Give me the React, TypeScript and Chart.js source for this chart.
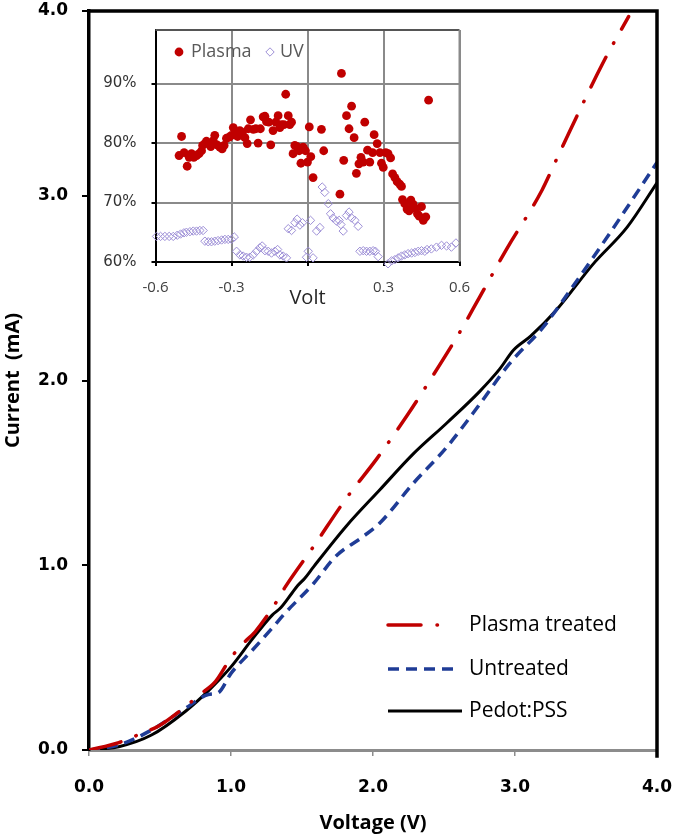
import React, { useEffect, useRef } from 'react';
import { Chart, registerables } from 'chart.js';

Chart.register(...registerables);

// ---------- Main chart data (Voltage V -> Current mA) ----------
const PLASMA_V = [0, 0.21, 0.37, 0.49, 0.68, 0.78, 0.89, 1.0, 1.09, 1.17, 1.31, 1.38, 1.58, 1.81, 2.03, 2.24, 2.40, 2.61, 2.75, 2.94, 3.19, 3.30, 3.62, 3.80];
const PLASMA_I = [0, 0.04, 0.09, 0.13, 0.236, 0.30, 0.37, 0.50, 0.58, 0.64, 0.79, 0.88, 1.10, 1.36, 1.58, 1.81, 2.00, 2.26, 2.45, 2.71, 3.03, 3.21, 3.72, 3.97];

const UNTREATED_V = [0, 0.21, 0.44, 0.68, 0.84, 0.91, 1.0, 1.15, 1.29, 1.38, 1.58, 1.74, 1.93, 2.05, 2.28, 2.52, 2.75, 2.96, 3.20, 3.39, 3.67, 4.0];
const UNTREATED_I = [0, 0.027, 0.108, 0.226, 0.30, 0.31, 0.415, 0.54, 0.66, 0.74, 0.90, 1.05, 1.155, 1.23, 1.44, 1.64, 1.87, 2.09, 2.29, 2.49, 2.80, 3.18];

const PEDOT_V = [0, 0.21, 0.44, 0.68, 0.84, 1.0, 1.15, 1.29, 1.35, 1.43, 1.47, 1.52, 1.58, 1.81, 2.05, 2.28, 2.52, 2.75, 2.89, 2.99, 3.11, 3.29, 3.55, 3.79, 4.0];
const PEDOT_I = [0, 0.018, 0.081, 0.21, 0.32, 0.45, 0.60, 0.73, 0.77, 0.85, 0.89, 0.93, 0.99, 1.21, 1.41, 1.60, 1.77, 1.94, 2.06, 2.165, 2.24, 2.38, 2.63, 2.83, 3.07];

const MAIN_X_TICKS = [0, 1, 2, 3, 4];
const MAIN_Y_TICKS = [0, 1, 2, 3, 4];

// ---------- Inset data (Volt -> %) ----------
const INSET_PLASMA_V = [-0.507, -0.497, -0.487, -0.475, -0.467, -0.458, -0.449, -0.438, -0.428, -0.418, -0.414, -0.405, -0.399, -0.389, -0.382, -0.372, -0.366, -0.357, -0.346, -0.337, -0.329, -0.320, -0.309, -0.300, -0.293, -0.284, -0.276, -0.267, -0.257, -0.247, -0.238, -0.234, -0.225, -0.214, -0.204, -0.195, -0.186, -0.175, -0.168, -0.162, -0.153, -0.145, -0.136, -0.125, -0.116, -0.109, -0.103, -0.093, -0.086, -0.076, -0.070, -0.063, -0.057, -0.050, -0.041, -0.033, -0.026, -0.017, -0.008, 0.000, 0.007, 0.013, 0.022, 0.055, 0.064, 0.128, 0.134, 0.143, 0.154, 0.164, 0.174, 0.184, 0.193, 0.203, 0.211, 0.220, 0.226, 0.237, 0.246, 0.257, 0.263, 0.275, 0.286, 0.292, 0.299, 0.309, 0.318, 0.328, 0.336, 0.345, 0.354, 0.364, 0.371, 0.375, 0.384, 0.393, 0.401, 0.408, 0.417, 0.425, 0.434, 0.441, 0.450, 0.457, 0.467, 0.478];
const INSET_PLASMA_PCT = [77.9, 81.1, 78.4, 76.1, 77.6, 78.2, 77.6, 77.9, 78.2, 78.7, 79.6, 79.9, 80.3, 79.9, 79.4, 80.4, 81.3, 79.7, 79.3, 79.0, 79.6, 80.8, 81.0, 81.3, 82.6, 81.5, 81.1, 82.1, 81.8, 80.9, 79.9, 82.4, 83.9, 82.3, 82.4, 80.0, 82.4, 84.4, 84.5, 83.6, 83.5, 79.7, 82.1, 83.5, 84.6, 82.6, 83.1, 83.1, 88.2, 84.6, 83.1, 83.5, 78.2, 79.6, 79.4, 78.7, 76.6, 79.3, 78.7, 76.8, 82.7, 77.7, 74.2, 82.3, 78.7, 71.4, 91.7, 77.1, 84.6, 82.4, 86.2, 80.9, 74.9, 76.5, 77.6, 76.8, 83.5, 78.8, 76.8, 78.4, 81.4, 79.9, 78.4, 76.6, 75.9, 78.4, 78.2, 77.5, 74.8, 74.2, 73.5, 73.1, 72.7, 70.5, 69.8, 68.9, 68.6, 70.4, 69.7, 69.0, 68.1, 67.7, 69.3, 67.0, 67.6, 87.2];

const INSET_UV_V = [-0.596, -0.580, -0.563, -0.546, -0.530, -0.514, -0.501, -0.488, -0.478, -0.464, -0.451, -0.438, -0.425, -0.412, -0.405, -0.392, -0.379, -0.366, -0.353, -0.339, -0.326, -0.313, -0.300, -0.289, -0.280, -0.267, -0.254, -0.241, -0.228, -0.214, -0.201, -0.188, -0.179, -0.168, -0.155, -0.142, -0.129, -0.118, -0.109, -0.096, -0.083, -0.076, -0.063, -0.050, -0.041, -0.030, -0.020, -0.004, 0.003, 0.012, 0.022, 0.036, 0.049, 0.058, 0.068, 0.082, 0.091, 0.101, 0.114, 0.125, 0.132, 0.141, 0.154, 0.164, 0.174, 0.187, 0.200, 0.207, 0.220, 0.233, 0.246, 0.259, 0.268, 0.279, 0.318, 0.332, 0.345, 0.358, 0.371, 0.384, 0.397, 0.411, 0.424, 0.437, 0.450, 0.463, 0.472, 0.489, 0.509, 0.529, 0.549, 0.568, 0.586];
const INSET_UV_PCT = [64.3, 64.3, 64.3, 64.3, 64.3, 64.5, 64.7, 64.9, 65.0, 65.1, 65.2, 65.2, 65.3, 65.3, 63.5, 63.4, 63.4, 63.5, 63.6, 63.7, 63.8, 63.8, 63.8, 64.2, 61.8, 61.2, 61.0, 60.8, 60.8, 61.2, 61.8, 62.4, 62.7, 61.9, 61.8, 61.5, 61.8, 62.1, 61.2, 61.0, 60.7, 65.6, 65.3, 66.6, 67.2, 66.2, 66.6, 60.8, 61.8, 67.0, 60.7, 65.2, 65.8, 72.6, 71.7, 69.8, 68.1, 67.4, 66.9, 67.0, 66.3, 65.2, 67.8, 68.4, 67.4, 67.0, 66.0, 61.8, 61.9, 61.8, 61.8, 61.9, 61.8, 60.9, 59.7, 60.2, 60.4, 60.7, 61.0, 61.2, 61.4, 61.5, 61.6, 61.8, 61.9, 61.8, 62.1, 62.2, 62.5, 62.8, 62.7, 62.5, 63.2];

const INSET_X_TICKS = [-0.6, -0.3, 0, 0.3, 0.6];
const INSET_Y_TICKS = [60, 70, 80, 90];

const toPoints = (xs: number[], ys: number[]) => xs.map((x, i) => ({ x, y: ys[i] }));

const zeroScalePadding = (s: any) => {
  s.paddingTop = 0;
  s.paddingBottom = 0;
  s.paddingLeft = 0;
  s.paddingRight = 0;
};

const mainPlugin = {
  id: 'mainFrameLegend',
  afterDraw(chart: any) {
    const { ctx, chartArea: a } = chart;
    ctx.save();
    ctx.strokeStyle = '#000';
    ctx.lineWidth = 3.5;
    ctx.lineCap = 'square';
    ctx.beginPath();
    ctx.moveTo(a.left, a.top);
    ctx.lineTo(a.right, a.top);
    ctx.lineTo(a.right, a.bottom + 6);
    ctx.stroke();

    const rowOffsets = [125, 81, 39];
    const lens = [56, 71, 74];
    chart.data.datasets.forEach((ds: any, i: number) => {
      const y = a.bottom - rowOffsets[i];
      const x0 = a.right - 269;
      ctx.beginPath();
      ctx.setLineDash(ds.borderDash || []);
      ctx.lineCap = ds.borderCapStyle || 'butt';
      ctx.strokeStyle = ds.borderColor;
      ctx.lineWidth = ds.borderWidth;
      ctx.moveTo(x0, y);
      ctx.lineTo(x0 + lens[i], y);
      ctx.stroke();
      ctx.setLineDash([]);
      ctx.fillStyle = '#000';
      ctx.font = '21px "Open Sans"';
      ctx.textBaseline = 'middle';
      ctx.textAlign = 'left';
      ctx.fillText(ds.label, a.right - 188, y);
    });
    ctx.restore();
  },
};

const insetPlugin = {
  id: 'insetFrameLegend',
  afterDraw(chart: any) {
    const { ctx, chartArea: a } = chart;
    ctx.save();
    ctx.lineWidth = 2;
    ctx.strokeStyle = '#555';
    ctx.beginPath();
    ctx.moveTo(a.left, a.top);
    ctx.lineTo(a.right, a.top);
    ctx.stroke();
    ctx.strokeStyle = '#8a8a8a';
    ctx.beginPath();
    ctx.moveTo(a.right, a.top);
    ctx.lineTo(a.right, a.bottom);
    ctx.stroke();

    // legend
    const y = a.top + 22;
    const ds0 = chart.data.datasets[0];
    const ds1 = chart.data.datasets[1];
    ctx.font = '18px "Open Sans"';
    ctx.textBaseline = 'middle';
    ctx.textAlign = 'left';
    ctx.fillStyle = ds0.backgroundColor;
    ctx.beginPath();
    ctx.arc(a.left + 23.5, y, ds0.pointRadius, 0, Math.PI * 2);
    ctx.fill();
    ctx.fillStyle = '#595959';
    ctx.fillText(ds0.label, a.left + 35.5, y);
    const dx = a.left + 114.5;
    const r = ds1.pointRadius;
    ctx.strokeStyle = ds1.borderColor;
    ctx.lineWidth = ds1.borderWidth;
    ctx.beginPath();
    ctx.moveTo(dx, y - r);
    ctx.lineTo(dx + r, y);
    ctx.lineTo(dx, y + r);
    ctx.lineTo(dx - r, y);
    ctx.closePath();
    ctx.stroke();
    ctx.fillStyle = '#595959';
    ctx.fillText(ds1.label, a.left + 124.5, y);
    ctx.restore();
  },
};

function MainChart() {
  const ref = useRef<HTMLCanvasElement>(null);
  useEffect(() => {
    if (!ref.current) return;
    const chart = new Chart(ref.current, {
      type: 'scatter',
      data: {
        datasets: [
          {
            label: 'Plasma treated',
            data: toPoints(PLASMA_V, PLASMA_I),
            showLine: true,
            borderColor: '#C00000',
            backgroundColor: '#C00000',
            borderWidth: 3.5,
            borderDash: [33, 16, 0.5, 16],
            borderCapStyle: 'round',
            pointRadius: 0,
            cubicInterpolationMode: 'monotone',
          },
          {
            label: 'Untreated',
            data: toPoints(UNTREATED_V, UNTREATED_I),
            showLine: true,
            borderColor: '#1F3C96',
            backgroundColor: '#1F3C96',
            borderWidth: 3.5,
            borderDash: [11, 7],
            borderCapStyle: 'butt',
            pointRadius: 0,
            cubicInterpolationMode: 'monotone',
          },
          {
            label: 'Pedot:PSS',
            data: toPoints(PEDOT_V, PEDOT_I),
            showLine: true,
            borderColor: '#000000',
            backgroundColor: '#000000',
            borderWidth: 3,
            borderDash: [],
            borderCapStyle: 'butt',
            pointRadius: 0,
            cubicInterpolationMode: 'monotone',
          },
        ],
      } as any,
      options: {
        animation: false,
        responsive: false,
        layout: { padding: { top: 11, right: 18, left: 0, bottom: 0 } },
        plugins: { legend: { display: false }, tooltip: { enabled: false } },
        scales: {
          x: {
            type: 'linear',
            min: 0,
            max: 4,
            afterBuildTicks: (s: any) => {
              s.ticks = MAIN_X_TICKS.map((v) => ({ value: v }));
            },
            afterFit: (s: any) => {
              s.height = 85;
              zeroScalePadding(s);
            },
            ticks: {
              callback: (v: any) => Number(v).toFixed(1),
              font: { family: 'DejaVu Sans', size: 17, weight: 'bold' },
              color: '#000',
              padding: 21,
              maxRotation: 0,
              autoSkip: false,
            },
            grid: { drawOnChartArea: false, drawTicks: true, tickLength: 6, color: '#8c8c8c', lineWidth: 1.5 },
            border: { display: true, color: '#8c8c8c', width: 3 },
            title: {
              display: true,
              text: 'Voltage (V)',
              font: { family: 'Open Sans', size: 20, weight: 'bold' },
              color: '#000',
              padding: { top: 0, bottom: 0 },
            },
          },
          y: {
            type: 'linear',
            min: 0,
            max: 4,
            afterBuildTicks: (s: any) => {
              s.ticks = MAIN_Y_TICKS.map((v) => ({ value: v }));
            },
            afterFit: (s: any) => {
              s.width = 89;
              zeroScalePadding(s);
            },
            ticks: {
              callback: (v: any) => Number(v).toFixed(1),
              font: { family: 'DejaVu Sans', size: 17, weight: 'bold' },
              color: '#000',
              padding: 14,
              autoSkip: false,
            },
            grid: { drawOnChartArea: false, drawTicks: true, tickLength: 7, color: '#000', lineWidth: 2 },
            border: { display: true, color: '#000', width: 3.5 },
            title: {
              display: true,
              text: 'Current  (mA)',
              font: { family: 'Open Sans', size: 20, weight: 'bold' },
              color: '#000',
              padding: { top: 1, bottom: 0 },
            },
          },
        },
      } as any,
      plugins: [mainPlugin],
    });
    return () => chart.destroy();
  }, []);
  return <canvas ref={ref} width={675} height={835} style={{ position: 'absolute', left: 0, top: 0 }} />;
}

function InsetChart() {
  const ref = useRef<HTMLCanvasElement>(null);
  useEffect(() => {
    if (!ref.current) return;
    const chart = new Chart(ref.current, {
      type: 'scatter',
      data: {
        datasets: [
          {
            label: 'Plasma',
            data: toPoints(INSET_PLASMA_V, INSET_PLASMA_PCT),
            pointStyle: 'circle',
            pointRadius: 4.4,
            backgroundColor: '#C00000',
            borderColor: '#C00000',
            borderWidth: 0,
            clip: false,
          },
          {
            label: 'UV',
            data: toPoints(INSET_UV_V, INSET_UV_PCT),
            pointStyle: 'rectRot',
            pointRadius: 4.2,
            backgroundColor: 'rgba(255,255,255,0)',
            borderColor: '#9d8fd6',
            borderWidth: 1,
            clip: false,
          },
        ],
      } as any,
      options: {
        animation: false,
        responsive: false,
        layout: { padding: { top: 10, right: 20.5, left: 0, bottom: 0 } },
        plugins: { legend: { display: false }, tooltip: { enabled: false } },
        scales: {
          x: {
            type: 'linear',
            min: -0.6,
            max: 0.6,
            afterBuildTicks: (s: any) => {
              s.ticks = INSET_X_TICKS.map((v) => ({ value: v }));
            },
            afterFit: (s: any) => {
              s.height = 53;
              zeroScalePadding(s);
            },
            ticks: {
              callback: (v: any) => (Math.abs(Number(v)) < 1e-9 ? '' : Number(v).toFixed(1)),
              font: { family: 'Open Sans', size: 15 },
              color: '#404040',
              padding: 13,
              maxRotation: 0,
              autoSkip: false,
            },
            grid: { drawOnChartArea: true, drawTicks: true, tickLength: 4, color: '#8a8a8a', lineWidth: 2, tickColor: '#000' },
            border: { display: true, color: '#000', width: 2 },
            title: {
              display: true,
              text: 'Volt',
              font: { family: 'Open Sans', size: 20 },
              color: '#262626',
              padding: { top: 0, bottom: 5 },
            },
          },
          y: {
            type: 'linear',
            min: 60,
            max: 99,
            afterBuildTicks: (s: any) => {
              s.ticks = INSET_Y_TICKS.map((v) => ({ value: v }));
            },
            afterFit: (s: any) => {
              s.width = 65.5;
              zeroScalePadding(s);
            },
            ticks: {
              callback: (v: any) => `${v}%`,
              font: { family: 'DejaVu Sans', size: 15 },
              color: '#333333',
              padding: 15,
              autoSkip: false,
            },
            grid: { drawOnChartArea: true, drawTicks: true, tickLength: 4, color: '#8a8a8a', lineWidth: 2, tickColor: '#000' },
            border: { display: true, color: '#000', width: 2 },
          },
        },
      } as any,
      plugins: [insetPlugin],
    });
    return () => chart.destroy();
  }, []);
  return <canvas ref={ref} width={390} height={295} style={{ position: 'absolute', left: 90, top: 20 }} />;
}

export default function App() {
  return (
    <div style={{ position: 'absolute', left: 0, top: 0, width: 675, height: 835, background: '#fff' }}>
      <MainChart />
      <InsetChart />
    </div>
  );
}
